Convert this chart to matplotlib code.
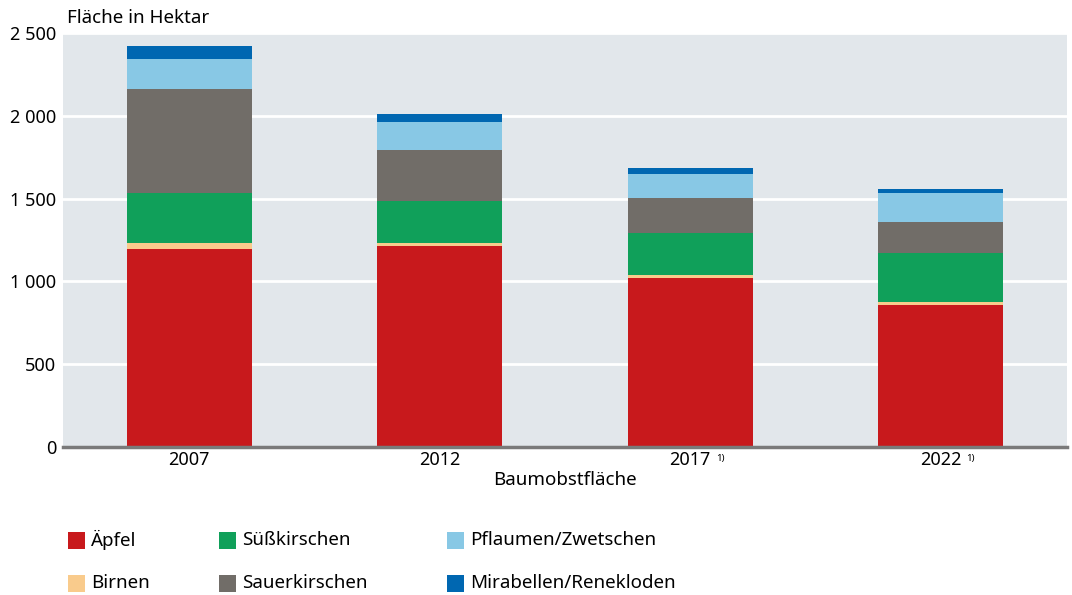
import numpy as np
import matplotlib.pyplot as plt
from matplotlib.patches import Rectangle

plt.rcParams["font.family"] = ["Noto Sans", "DejaVu Sans"]

# -----------------------------
# Data (Hektar)
# -----------------------------
years = ["2007", "2012", "2017", "2022"]
footnote = ["", "", "1)", "1)"]

aepfel = [1195, 1212, 1020, 860]
birnen = [36, 18, 18, 18]
suesskirschen = [300, 256, 256, 294]
sauerkirschen = [630, 308, 212, 186]
pflaumen = [180, 168, 144, 174]
mirabellen = [80, 48, 36, 24]

series = [
    ("Äpfel", aepfel, "#C8191C"),
    ("Birnen", birnen, "#F9CB8C"),
    ("Süßkirschen", suesskirschen, "#10A05A"),
    ("Sauerkirschen", sauerkirschen, "#716D68"),
    ("Pflaumen/Zwetschen", pflaumen, "#88C8E5"),
    ("Mirabellen/Renekloden", mirabellen, "#0067B1"),
]

W, H = 1072, 595

# -----------------------------
# Plot
# -----------------------------
fig = plt.figure(figsize=(W / 100, H / 100), dpi=100)
ax = fig.add_axes([63 / W, 1 - 447 / H, 1004 / W, 414 / H])
ax.set_facecolor("#E2E7EB")

x = np.arange(len(years))
bottom = np.zeros(len(years))
for name, vals, col in series:
    ax.bar(x, vals, bottom=bottom, width=0.5, color=col, label=name, zorder=3)
    bottom += np.array(vals)

ax.set_ylim(0, 2500)
ax.set_xlim(-0.504, 3.504)
yt = np.arange(0, 2501, 500)
ax.set_yticks(yt)
ax.set_yticklabels([f"{v:,}".replace(",", " ") for v in yt], fontsize=13)
ax.yaxis.grid(True, color="white", linewidth=2, zorder=1)
ax.set_axisbelow(True)
ax.tick_params(axis="y", length=0, pad=5)
ax.tick_params(axis="x", length=0, pad=3)

ax.set_xticks(x)
ax.set_xticklabels(years, fontsize=13)
for xi, fn in zip(x, footnote):
    if fn:
        ax.annotate(fn, xy=(xi, 0), xycoords="data",
                    xytext=(18.5, -8), textcoords="offset points",
                    fontsize=7, ha="left", va="center")

for s in ["top", "right", "left"]:
    ax.spines[s].set_visible(False)
ax.spines["bottom"].set_color("#7a7a7a")
ax.spines["bottom"].set_linewidth(2.5)
ax.spines["bottom"].set_zorder(4)

ax.set_xlabel("Baumobstfläche", fontsize=13.5, labelpad=1)
fig.text(67 / W, 1 - 18 / H, "Fläche in Hektar", fontsize=13.5,
         ha="left", va="center")

# -----------------------------
# Legend (two rows, three columns)
# -----------------------------
col_x = [68, 219, 447]
row_y = [540, 583]
for i, (name, _, col) in enumerate(series):
    cx = col_x[i // 2]
    cy = row_y[i % 2]
    fig.patches.append(Rectangle((cx / W, 1 - (cy + 8.5) / H), 17 / W, 17 / H,
                                 transform=fig.transFigure, facecolor=col,
                                 edgecolor="none"))
    fig.text((cx + 23) / W, 1 - cy / H, name, fontsize=13.5,
             ha="left", va="center")

plt.savefig("out.png", dpi=100)
